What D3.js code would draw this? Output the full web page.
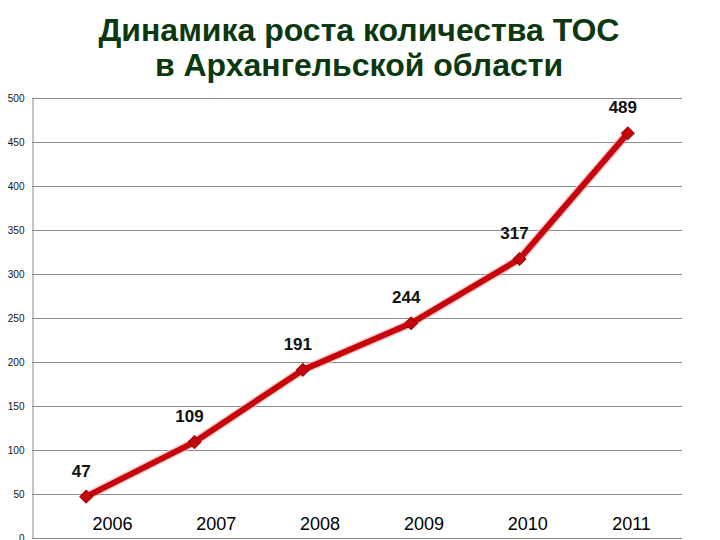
<!DOCTYPE html>
<html><head><meta charset="utf-8">
<script src="https://cdn.jsdelivr.net/npm/d3@7"></script>
<style>body{margin:0;background:#fff}svg{display:block}</style>
</head><body>
<svg id="c" width="720" height="540"></svg>
<script>
const titleLines = ["Динамика роста количества ТОС", "в Архангельской области"];
const years = ["2006", "2007", "2008", "2009", "2010", "2011"];
const values = [47, 109, 191, 244, 317, 460];
const valueLabels = ["47", "109", "191", "244", "317", "489"];
const yTicks = [0, 50, 100, 150, 200, 250, 300, 350, 400, 450, 500];

const svg = d3.select("#c");
const pL = 32, pR = 682, pT = 98, pB = 538;

const x = d3.scalePoint().domain(years).range([pL, pR]).padding(0.5);
const xLab = d3.scalePoint().domain(years).range([112, 631]);
const y = d3.scaleLinear().domain([0, 500]).range([pB, pT]);

// title
svg.append("g").selectAll("text").data(titleLines).join("text")
  .attr("x", 359).attr("y", (d, i) => 41 + i * 35)
  .attr("text-anchor", "middle")
  .attr("font-family", "Liberation Sans, Arial, sans-serif")
  .attr("font-weight", "bold").attr("font-size", 32)
  .attr("fill", "#0c380f").text(d => d);

// gridlines
svg.append("g").selectAll("line").data(yTicks.filter(d => d > 0)).join("line")
  .attr("x1", pL).attr("x2", pR)
  .attr("y1", d => y(d) + 0.5).attr("y2", d => y(d) + 0.5)
  .attr("stroke", "#8c8c8c").attr("stroke-width", 1);

// y axis
const ya = svg.append("g").attr("transform", `translate(${pL + 0.5},0)`)
  .call(d3.axisLeft(y).tickValues(yTicks).tickSize(0).tickPadding(8));
ya.select(".domain").attr("stroke", "#8c8c8c");
ya.selectAll("text").attr("font-family", "Liberation Sans, Arial, sans-serif")
  .attr("font-size", 10).attr("fill", "#111");

// bottom axis line
svg.append("line").attr("x1", pL).attr("x2", pR)
  .attr("y1", pB + 0.5).attr("y2", pB + 0.5).attr("stroke", "#8c8c8c");

// x labels
const xa = svg.append("g").attr("transform", `translate(0,${pB - 21})`)
  .call(d3.axisBottom(xLab).tickSize(0).tickPadding(0));
xa.select(".domain").remove();
xa.selectAll("text").attr("font-family", "Liberation Sans, Arial, sans-serif")
  .attr("font-size", 18).attr("fill", "#000");

// line
const line = d3.line().x((d, i) => x(years[i])).y(d => y(d));
svg.append("path").datum(values).attr("d", line)
  .attr("fill", "none").attr("stroke", "#f3b0b0").attr("stroke-width", 9)
  .attr("stroke-linejoin", "round").attr("opacity", 0.6);
svg.append("path").datum(values).attr("d", line)
  .attr("fill", "none").attr("stroke", "#c6060c").attr("stroke-width", 6)
  .attr("stroke-linejoin", "round");

// markers
svg.append("g").selectAll("path").data(values).join("path")
  .attr("transform", (d, i) => `translate(${x(years[i])},${y(d)}) rotate(45)`)
  .attr("d", "M-4.5,-4.5H4.5V4.5H-4.5Z")
  .attr("fill", "#c6060c").attr("stroke", "#9a0000").attr("stroke-width", 1);

// value labels
svg.append("g").selectAll("text").data(values).join("text")
  .attr("x", (d, i) => x(years[i]) - 5)
  .attr("y", d => y(d) - 20)
  .attr("text-anchor", "middle")
  .attr("font-family", "Liberation Sans, Arial, sans-serif")
  .attr("font-weight", "bold").attr("font-size", 17).attr("fill", "#111")
  .text((d, i) => valueLabels[i]);
</script>
</body></html>
